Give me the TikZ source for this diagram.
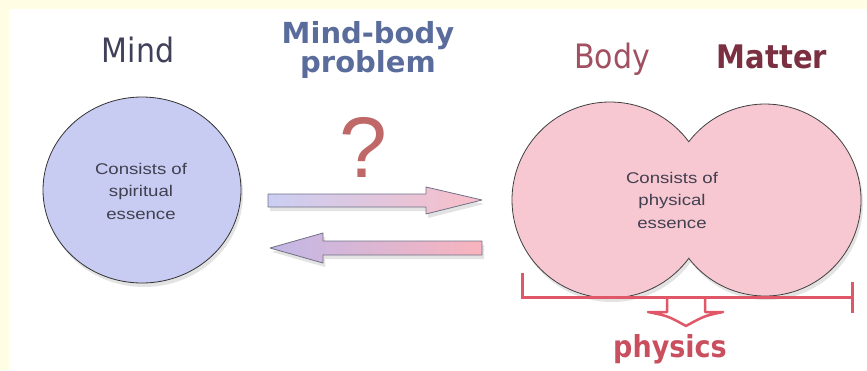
\documentclass[tikz,border=0pt]{standalone}
\usepackage{fontspec}
\setmainfont{DejaVu Sans}
\newfontfamily\smallf{Liberation Sans}
\usetikzlibrary{shadows,shapes.geometric}
\definecolor{bgyellow}{HTML}{FFFDE4}
\definecolor{mindfill}{HTML}{C8CCF2}
\definecolor{bodyfill}{HTML}{F8C8D2}
\definecolor{mindtxt}{HTML}{40405A}
\definecolor{mbtxt}{HTML}{5A6C9C}
\definecolor{bodytxt}{HTML}{A05060}
\definecolor{mattertxt}{HTML}{7A3040}
\definecolor{qcol}{HTML}{C06868}
\definecolor{physred}{HTML}{E05868}
\definecolor{smalltxt}{HTML}{404050}
\definecolor{arrowedge}{HTML}{707088}
\newcommand{\wideline}[1]{\scalebox{1.2}[1]{#1}}
\newcommand{\tallline}[1]{\scalebox{1}[1.12]{#1}}
\tikzset{
  label30/.style={anchor=base, inner sep=0pt, font=\fontsize{30}{30}\selectfont},
  smalltext/.style={align=center, inner sep=0pt, text=smalltxt, font=\smallf\fontsize{15.5}{22.5}\selectfont},
  softshadow/.style={drop shadow={opacity=0.22, shadow xshift=2pt, shadow yshift=-4pt}},
  bigarrow/.style={draw=arrowedge, line width=0.8pt, line join=round, softshadow},
  bracket/.style={draw=physred, line width=3pt},
}
\begin{document}
\begin{tikzpicture}[x=1pt,y=-1pt]
\useasboundingbox (0,0) rectangle (867,370);
\fill[bgyellow] (0,0) rectangle (867,370);
\fill[white] (9,9) rectangle (867,370);

% Mind circle
\node[draw=black!80, line width=0.8pt, fill=mindfill, ellipse, softshadow,
      minimum width=198pt, minimum height=186pt, inner sep=0pt] (mind) at (142,190) {};
\node[smalltext] (mindtext) at (141,191) {\wideline{Consists of}\\\wideline{spiritual}\\\wideline{essence}};

% Body / Matter shape
\draw[draw=black!75, line width=0.8pt, fill=bodyfill, softshadow]
  (610,200) ++(36.5:98) arc[start angle=36.5, end angle=323.5, radius=98]
  arc[start angle=-142.6, end angle=142.6, radius=96] -- cycle;
\node[smalltext] (bodytext) at (672,200) {\wideline{Consists of}\\\wideline{physical}\\\wideline{essence}};

% Labels
\node[label30, text=mindtxt, font=\fontsize{30}{30}\selectfont] (mindlabel) at (138,62) {\tallline{Mind}};
\node[align=center, inner sep=0pt, text=mbtxt,
      font={\bfseries\fontsize{29}{29.5}\selectfont}] (mb) at (368,50)
      {Mind-body\\problem};
\node[label30, text=bodytxt] (bodylabel) at (612,68) {\tallline{Body}};
\node[label30, text=mattertxt, font=\bfseries\fontsize{29}{29}\selectfont] (matterlabel) at (772,68) {\tallline{Matter}};
\node[anchor=base, inner sep=0pt, text=qcol, font=\smallf\fontsize{86}{86}\selectfont] (q) at (363,177) {?};

% Arrows
\shade[bigarrow, left color=mindfill!95!white, right color=bodyfill!95!red]
  (268,194) -- (426,194) -- (426,187) -- (482,200) -- (426,214) -- (426,207) -- (268,207) -- cycle;
\shade[bigarrow, left color=mindfill!90!violet, right color=bodyfill!90!red]
  (482,241) -- (323,241) -- (323,233) -- (270,248) -- (323,263) -- (323,255) -- (482,255) -- cycle;

% Bracket
\draw[bracket] (522,273) -- (522,297) -- (852,297);
\draw[bracket] (852,282) -- (852,313);
\draw[draw=physred, line width=2.5pt, line join=round]
  (667,298) -- (667,312) -- (648,312) .. controls (668,316) .. (686,326)
  .. controls (704,316) .. (723,312) -- (705,312) -- (705,298);
\node[anchor=base, inner sep=0pt, text=physred!90!black, font=\bfseries\fontsize{27}{27}\selectfont] (physics) at (670,357) {\tallline{physics}};
\end{tikzpicture}
\end{document}
